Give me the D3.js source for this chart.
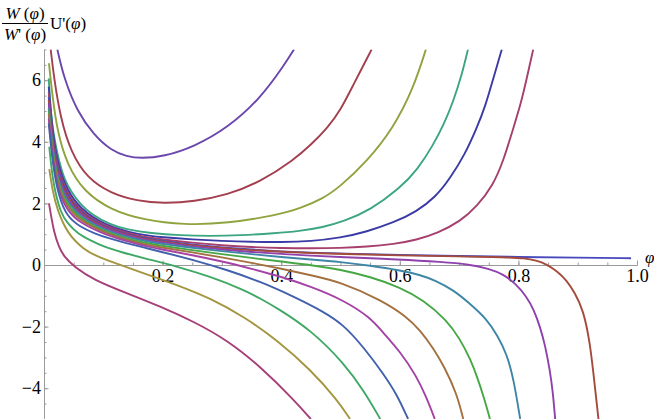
<!DOCTYPE html>
<html>
<head>
<meta charset="utf-8">
<script src="https://cdn.jsdelivr.net/npm/d3@7"></script>
<style>
  html, body { margin: 0; padding: 0; background: #fff; }
  svg { display: block; }
</style>
</head>
<body>
<svg id="chart" width="654" height="419"></svg>
<script>
// ---- data (phi, value) ----
const curve01 = [[0.0225,7.0],[0.0337,6.06],[0.056,4.98],[0.0843,4.22],[0.1124,3.73],[0.14,3.52],[0.163,3.46],[0.202,3.52],[0.253,3.84],[0.309,4.44],[0.365,5.41],[0.405,6.49],[0.4216,7.0]];
const curve02 = [[0.0113,7.0],[0.0169,6.06],[0.028,4.76],[0.045,3.68],[0.073,2.81],[0.1124,2.33],[0.157,2.08],[0.202,2.0],[0.253,2.06],[0.309,2.27],[0.365,2.70],[0.4216,3.42],[0.45,3.9],[0.478,4.45],[0.5,5.02],[0.5216,5.85],[0.5526,7.0]];
const curve03 = [[0.0084,6.55],[0.014,5.52],[0.0225,4.33],[0.039,3.25],[0.0675,2.38],[0.1124,1.79],[0.1686,1.46],[0.236,1.30],[0.309,1.35],[0.3934,1.62],[0.432,1.84],[0.47,2.15],[0.499,2.54],[0.544,3.35],[0.589,4.44],[0.623,5.74],[0.644,7.0]];
const curve04 = [[0.008,6.06],[0.0113,4.98],[0.015,4.4],[0.0197,3.9],[0.025,3.4],[0.0337,2.81],[0.045,2.4],[0.062,1.95],[0.08,1.65],[0.1124,1.30],[0.14,1.15],[0.18,1.03],[0.23,0.96],[0.28,0.94],[0.33,0.96],[0.39,1.03],[0.43,1.1],[0.47,1.22],[0.506,1.42],[0.55,1.78],[0.6,2.49],[0.63,3.1],[0.6565,3.9],[0.675,4.6],[0.69,5.3],[0.705,6.2],[0.715,7.0]];
const curve05 = [[0.008,5.79],[0.015,4.15],[0.025,3.15],[0.04,2.4],[0.06,1.85],[0.1,1.3],[0.16,0.98],[0.2,0.9],[0.25,0.83],[0.3,0.78],[0.35,0.75],[0.4,0.74],[0.45,0.77],[0.5,0.88],[0.544,1.08],[0.59,1.38],[0.628,1.73],[0.66,2.2],[0.6847,2.81],[0.71,3.6],[0.7297,4.44],[0.745,5.2],[0.7577,6.06],[0.772,7.0]];
const curve06 = [[0.008,5.6],[0.015,4.0],[0.025,3.0],[0.04,2.3],[0.06,1.78],[0.1,1.26],[0.16,0.93],[0.2,0.83],[0.25,0.72],[0.3,0.64],[0.35,0.58],[0.4,0.55],[0.45,0.54],[0.5,0.55],[0.544,0.59],[0.59,0.68],[0.628,0.81],[0.665,1.05],[0.7015,1.41],[0.73,1.9],[0.7577,2.6],[0.775,3.4],[0.7914,4.44],[0.805,5.3],[0.814,6.06],[0.825,7.0]];
const curve07 = [[0.008,5.45],[0.015,3.9],[0.025,2.9],[0.04,2.22],[0.06,1.72],[0.1,1.22],[0.16,0.89],[0.2,0.78],[0.25,0.66],[0.3,0.57],[0.35,0.5],[0.4,0.44],[0.45,0.4],[0.5,0.37],[0.6,0.33],[0.7,0.29],[0.8,0.26],[0.9,0.24],[0.99,0.22]];
const curve08 = [[0.008,5.35],[0.015,3.82],[0.025,2.82],[0.04,2.16],[0.06,1.68],[0.1,1.2],[0.16,0.87],[0.2,0.76],[0.25,0.64],[0.3,0.55],[0.35,0.48],[0.4,0.43],[0.45,0.39],[0.5,0.36],[0.6,0.31],[0.7,0.28],[0.78,0.25],[0.81,0.22],[0.83,0.15],[0.848,0.02],[0.865,-0.2],[0.8814,-0.5],[0.895,-0.9],[0.9095,-1.46],[0.921,-2.54],[0.929,-3.95],[0.935,-5.0]];
const curve09 = [[0.008,5.25],[0.015,3.74],[0.025,2.74],[0.04,2.1],[0.06,1.64],[0.1,1.17],[0.16,0.84],[0.2,0.73],[0.25,0.6],[0.3,0.5],[0.35,0.42],[0.4,0.36],[0.45,0.3],[0.5,0.26],[0.6,0.18],[0.67,0.1],[0.718,0.02],[0.75,-0.12],[0.7746,-0.3],[0.795,-0.6],[0.814,-1.03],[0.826,-1.45],[0.8364,-2.0],[0.845,-2.6],[0.853,-3.41],[0.858,-4.1],[0.862,-5.0]];
const curve10 = [[0.008,5.1],[0.015,3.64],[0.025,2.64],[0.04,2.02],[0.06,1.58],[0.1,1.13],[0.16,0.8],[0.2,0.68],[0.25,0.56],[0.3,0.45],[0.35,0.35],[0.4,0.26],[0.45,0.18],[0.5,0.1],[0.55,-0.02],[0.6,-0.17],[0.634,-0.32],[0.66,-0.5],[0.69,-0.81],[0.715,-1.2],[0.7465,-1.75],[0.765,-2.3],[0.78,-2.87],[0.792,-3.7],[0.803,-5.0]];
const curve11 = [[0.008,5.0],[0.015,3.55],[0.025,2.54],[0.04,1.94],[0.06,1.52],[0.1,1.09],[0.16,0.74],[0.2,0.62],[0.25,0.48],[0.3,0.35],[0.35,0.23],[0.4,0.11],[0.45,0.0],[0.5,-0.15],[0.55,-0.38],[0.6,-0.72],[0.64,-1.14],[0.679,-1.79],[0.7015,-2.4],[0.72,-3.1],[0.7297,-3.6],[0.742,-4.3],[0.752,-5.0]];
const curve12 = [[0.008,4.9],[0.015,3.45],[0.025,2.44],[0.04,1.85],[0.06,1.46],[0.1,1.05],[0.16,0.7],[0.2,0.56],[0.25,0.41],[0.3,0.25],[0.35,0.07],[0.4,-0.12],[0.45,-0.33],[0.5,-0.55],[0.569,-1.14],[0.6116,-1.68],[0.634,-2.11],[0.6565,-2.7],[0.675,-3.3],[0.696,-4.17],[0.707,-5.0]];
const curve13 = [[0.008,4.75],[0.015,3.33],[0.025,2.32],[0.04,1.75],[0.06,1.38],[0.1,1.0],[0.16,0.65],[0.2,0.5],[0.25,0.32],[0.3,0.12],[0.35,-0.12],[0.4,-0.38],[0.45,-0.7],[0.505,-1.14],[0.55,-1.7],[0.572,-2.2],[0.6,-2.8],[0.628,-3.6],[0.645,-4.3],[0.659,-5.0]];
const curve14 = [[0.008,4.6],[0.015,3.2],[0.025,2.2],[0.039,1.57],[0.06,1.25],[0.0843,1.03],[0.11,0.86],[0.1405,0.70],[0.17,0.56],[0.197,0.43],[0.253,0.16],[0.309,-0.16],[0.365,-0.54],[0.4216,-1.03],[0.47,-1.5],[0.506,-1.95],[0.54,-2.7],[0.572,-3.52],[0.595,-4.2],[0.614,-5.0]];
const curve15 = [[0.0089,3.84],[0.015,2.65],[0.028,1.68],[0.04,1.35],[0.056,1.03],[0.08,0.78],[0.101,0.59],[0.13,0.42],[0.1686,0.22],[0.2248,-0.05],[0.281,-0.38],[0.337,-0.81],[0.364,-1.08],[0.3934,-1.4],[0.45,-2.11],[0.506,-3.19],[0.54,-4.1],[0.567,-5.0]];
const curve16 = [[0.0089,3.11],[0.015,2.35],[0.0225,1.79],[0.039,1.03],[0.0675,0.49],[0.09,0.28],[0.1124,0.11],[0.1686,-0.27],[0.2248,-0.65],[0.281,-1.08],[0.337,-1.68],[0.3934,-2.44],[0.45,-3.41],[0.4946,-4.38],[0.516,-5.0]];
const curve17 = [[0.0084,2.0],[0.0169,1.03],[0.025,0.6],[0.0337,0.27],[0.0506,-0.05],[0.0843,-0.49],[0.1405,-0.92],[0.1968,-1.35],[0.253,-1.84],[0.309,-2.44],[0.365,-3.30],[0.4216,-4.38],[0.45,-5.0]];

const curves = [curve01,curve02,curve03,curve04,curve05,curve06,curve07,curve08,curve09,curve10,curve11,curve12,curve13,curve14,curve15,curve16,curve17];
const curveColors = ["#6b47ad","#a33f4f","#8fa33e","#3ca582","#3b3ba6","#a63f6e","#4848bd","#a44b3c","#8f41ad","#3e86a6","#45a845","#a3703f","#a542a5","#4161ad","#40a865","#a3963f","#a63f77"];

const xMajorTicks = [0.2, 0.4, 0.6, 0.8, 1.0];
const xMinorTicks = d3.range(1, 21).map(i => i * 0.05);
const yMajorTicks = [-4, -2, 0, 2, 4, 6];
const yMinorTicks = d3.range(-10, 15).map(i => i * 0.5);

// ---- drawing ----
const serif = '"Liberation Serif", "Times New Roman", Times, serif';
const svg = d3.select("#chart");
const x = d3.scaleLinear().domain([0, 1]).range([44, 637]);
const y = d3.scaleLinear().domain([-5, 7]).range([419, 49.4]);

svg.append("defs").append("clipPath").attr("id", "plotClip")
  .append("rect").attr("x", x(0)).attr("y", y(7)).attr("width", 600).attr("height", y(-5) - y(7));

function styleAxis(g) {
  g.attr("font-family", serif).attr("font-size", 18);
  g.select(".domain").attr("stroke", "#9a9a9a");
  g.selectAll(".tick line").attr("stroke", "#9a9a9a");
  g.selectAll(".tick text").attr("fill", "#000").attr("font-family", serif).attr("font-size", 18);
}

// x axis minor + major
svg.append("g").attr("transform", `translate(0,${y(0)})`)
  .call(d3.axisBottom(x).tickValues(xMinorTicks).tickSize(-2.5).tickSizeOuter(0).tickFormat(""))
  .call(styleAxis);
svg.append("g").attr("transform", `translate(0,${y(0)})`)
  .call(d3.axisBottom(x).tickValues(xMajorTicks).tickSize(-4.5).tickSizeOuter(0).tickPadding(4.2)
    .tickFormat(d => d3.format(".1f")(d)))
  .call(styleAxis);

// y axis minor + major
svg.append("g").attr("transform", `translate(${x(0)},0)`)
  .call(d3.axisLeft(y).tickValues(yMinorTicks).tickSize(-2.5).tickSizeOuter(0).tickFormat(""))
  .call(styleAxis);
svg.append("g").attr("transform", `translate(${x(0)},0)`)
  .call(d3.axisLeft(y).tickValues(yMajorTicks).tickSize(-4.5).tickSizeOuter(0).tickPadding(3)
    .tickFormat(d => d < 0 ? "\u2212" + Math.abs(d) : String(d)))
  .call(styleAxis);

// curves
const line = d3.line().x(d => x(d[0])).y(d => y(d[1])).curve(d3.curveBasis);
svg.append("g").attr("clip-path", "url(#plotClip)")
  .selectAll("path").data(curves).join("path")
  .attr("d", line)
  .attr("fill", "none")
  .attr("stroke", (d, i) => curveColors[i])
  .attr("stroke-width", 1.9)
  .attr("stroke-linejoin", "round");

// axis labels
svg.append("text").attr("x", 645).attr("y", 263)
  .attr("font-family", serif).attr("font-size", 17).attr("font-style", "italic").text("φ");

const yl = svg.append("g").attr("font-family", serif).attr("font-size", 17).attr("fill", "#000");
const num = yl.append("text").attr("x", 25).attr("y", 19).attr("text-anchor", "middle");
num.append("tspan").attr("font-style", "italic").text("W");
num.append("tspan").text(" (");
num.append("tspan").attr("font-style", "italic").text("φ");
num.append("tspan").text(")");
yl.append("line").attr("x1", 2).attr("x2", 48).attr("y1", 23.5).attr("y2", 23.5)
  .attr("stroke", "#000").attr("stroke-width", 1);
const den = yl.append("text").attr("x", 25).attr("y", 40).attr("text-anchor", "middle");
den.append("tspan").attr("font-style", "italic").text("W");
den.append("tspan").text("' (");
den.append("tspan").attr("font-style", "italic").text("φ");
den.append("tspan").text(")");
const up = yl.append("text").attr("x", 50).attr("y", 28.5);
up.append("tspan").text("U'(");
up.append("tspan").attr("font-style", "italic").text("φ");
up.append("tspan").text(")");
</script>
</body>
</html>
